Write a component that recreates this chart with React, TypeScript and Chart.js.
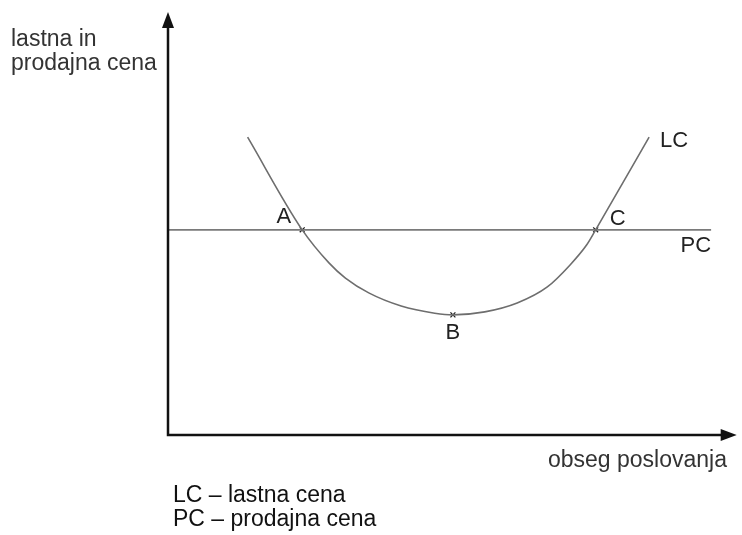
import React, { useEffect, useRef } from "react";
import { Chart, registerables } from "chart.js";

Chart.register(...registerables);

// LC – lastna cena (cost curve) (x: 0..100, y: 0..100)
const lcX = [14, 23.6, 28.3, 31.2, 35.3, 41.0, 46.9, 50.1, 55.7, 61.4, 66.7, 70.7, 73.6, 75.2, 84.6];
const lcY = [70.4, 48.5, 40.7, 37.1, 33.6, 30.5, 28.8, 28.4, 29.1, 31.2, 35.0, 40.2, 44.9, 48.5, 70.4];
// PC – prodajna cena (flat selling price)
const pcX = [0, 95.5];
const pcY = [48.5, 48.5];
// marked points
const markNames = ["A", "B", "C"];
const markX = [23.6, 50.1, 75.2];
const markY = [48.5, 28.4, 48.5];

const yAxisTitle = ["lastna in", "prodajna cena"];
const xAxisTitle = "obseg poslovanja";
const legendLines = ["LC – lastna cena", "PC – prodajna cena"];

const FONT = "'Liberation Sans', Arial, sans-serif";

const overlay = {
  id: "overlay",
  afterDatasetsDraw(chart: any) {
    const { ctx, chartArea, scales } = chart;
    const { left, top, right, bottom } = chartArea;
    const xs = scales.x;
    const ys = scales.y;
    ctx.save();
    // axes
    ctx.strokeStyle = "#111";
    ctx.fillStyle = "#111";
    ctx.lineWidth = 2.5;
    ctx.beginPath();
    ctx.moveTo(left, top + 10);
    ctx.lineTo(left, bottom);
    ctx.lineTo(right - 10, bottom);
    ctx.stroke();
    // arrow heads
    ctx.beginPath();
    ctx.moveTo(left, top);
    ctx.lineTo(left - 6, top + 16);
    ctx.lineTo(left + 6, top + 16);
    ctx.closePath();
    ctx.fill();
    ctx.beginPath();
    ctx.moveTo(right, bottom);
    ctx.lineTo(right - 16, bottom - 6);
    ctx.lineTo(right - 16, bottom + 6);
    ctx.closePath();
    ctx.fill();

    // axis titles
    ctx.font = `23px ${FONT}`;
    ctx.fillStyle = "#333";
    ctx.textAlign = "left";
    ctx.textBaseline = "alphabetic";
    ctx.fillText(yAxisTitle[0], 11, 46);
    ctx.fillText(yAxisTitle[1], 11, 70);
    ctx.textAlign = "right";
    ctx.fillText(xAxisTitle, 727, 467);

    // legend text
    ctx.fillStyle = "#111";
    ctx.textAlign = "left";
    ctx.font = `23px ${FONT}`;
    ctx.fillText(legendLines[0], 173, 502);
    ctx.fillText(legendLines[1], 173, 526);

    // curve labels
    ctx.font = `22px ${FONT}`;
    ctx.fillStyle = "#222";
    const lx = xs.getPixelForValue(lcX[lcX.length - 1]);
    const ly = ys.getPixelForValue(lcY[lcY.length - 1]);
    ctx.textAlign = "left";
    ctx.fillText("LC", lx + 11, ly + 10);
    const px = xs.getPixelForValue(pcX[pcX.length - 1]);
    const py = ys.getPixelForValue(pcY[pcY.length - 1]);
    ctx.textAlign = "right";
    ctx.fillText("PC", px, py + 22);

    // point labels
    const ax = xs.getPixelForValue(markX[0]);
    const ay = ys.getPixelForValue(markY[0]);
    ctx.textAlign = "right";
    ctx.fillText(markNames[0], ax - 11, ay - 7);
    const bx = xs.getPixelForValue(markX[1]);
    const by = ys.getPixelForValue(markY[1]);
    ctx.textAlign = "center";
    ctx.fillText(markNames[1], bx, by + 24);
    const cx = xs.getPixelForValue(markX[2]);
    const cy = ys.getPixelForValue(markY[2]);
    ctx.textAlign = "left";
    ctx.fillText(markNames[2], cx + 14, cy - 5);
    ctx.restore();
  },
};

export default function App() {
  const ref = useRef<HTMLCanvasElement | null>(null);
  useEffect(() => {
    if (!ref.current) return;
    const chart = new Chart(ref.current, {
      type: "line",
      data: {
        datasets: [
          {
            label: "LC",
            data: lcX.map((x, i) => ({ x, y: lcY[i] })),
            borderColor: "#6e6e6e",
            borderWidth: 1.6,
            pointRadius: 0,
            cubicInterpolationMode: "monotone",
            fill: false,
          },
          {
            label: "PC",
            data: pcX.map((x, i) => ({ x, y: pcY[i] })),
            borderColor: "#7a7a7a",
            borderWidth: 1.6,
            pointRadius: 0,
            fill: false,
          },
          {
            label: "points",
            data: markX.map((x, i) => ({ x, y: markY[i] })),
            showLine: false,
            pointStyle: "crossRot",
            pointRadius: 3.5,
            pointBorderColor: "#222",
            pointBorderWidth: 1.3,
          },
        ],
      },
      options: {
        responsive: false,
        animation: false,
        devicePixelRatio: 1,
        layout: { padding: { left: 168, top: 12, right: 1, bottom: 100 } },
        plugins: { legend: { display: false }, tooltip: { enabled: false } },
        scales: {
          x: { type: "linear", min: 0, max: 100, display: false },
          y: { type: "linear", min: 0, max: 100, display: false },
        },
      },
      plugins: [overlay],
    });
    return () => chart.destroy();
  }, []);
  return (
    <div style={{ position: "fixed", left: 0, top: 0, width: 742, height: 535, background: "#fff" }}>
      <canvas ref={ref} width={742} height={535} style={{ width: 742, height: 535, display: "block" }} />
    </div>
  );
}
